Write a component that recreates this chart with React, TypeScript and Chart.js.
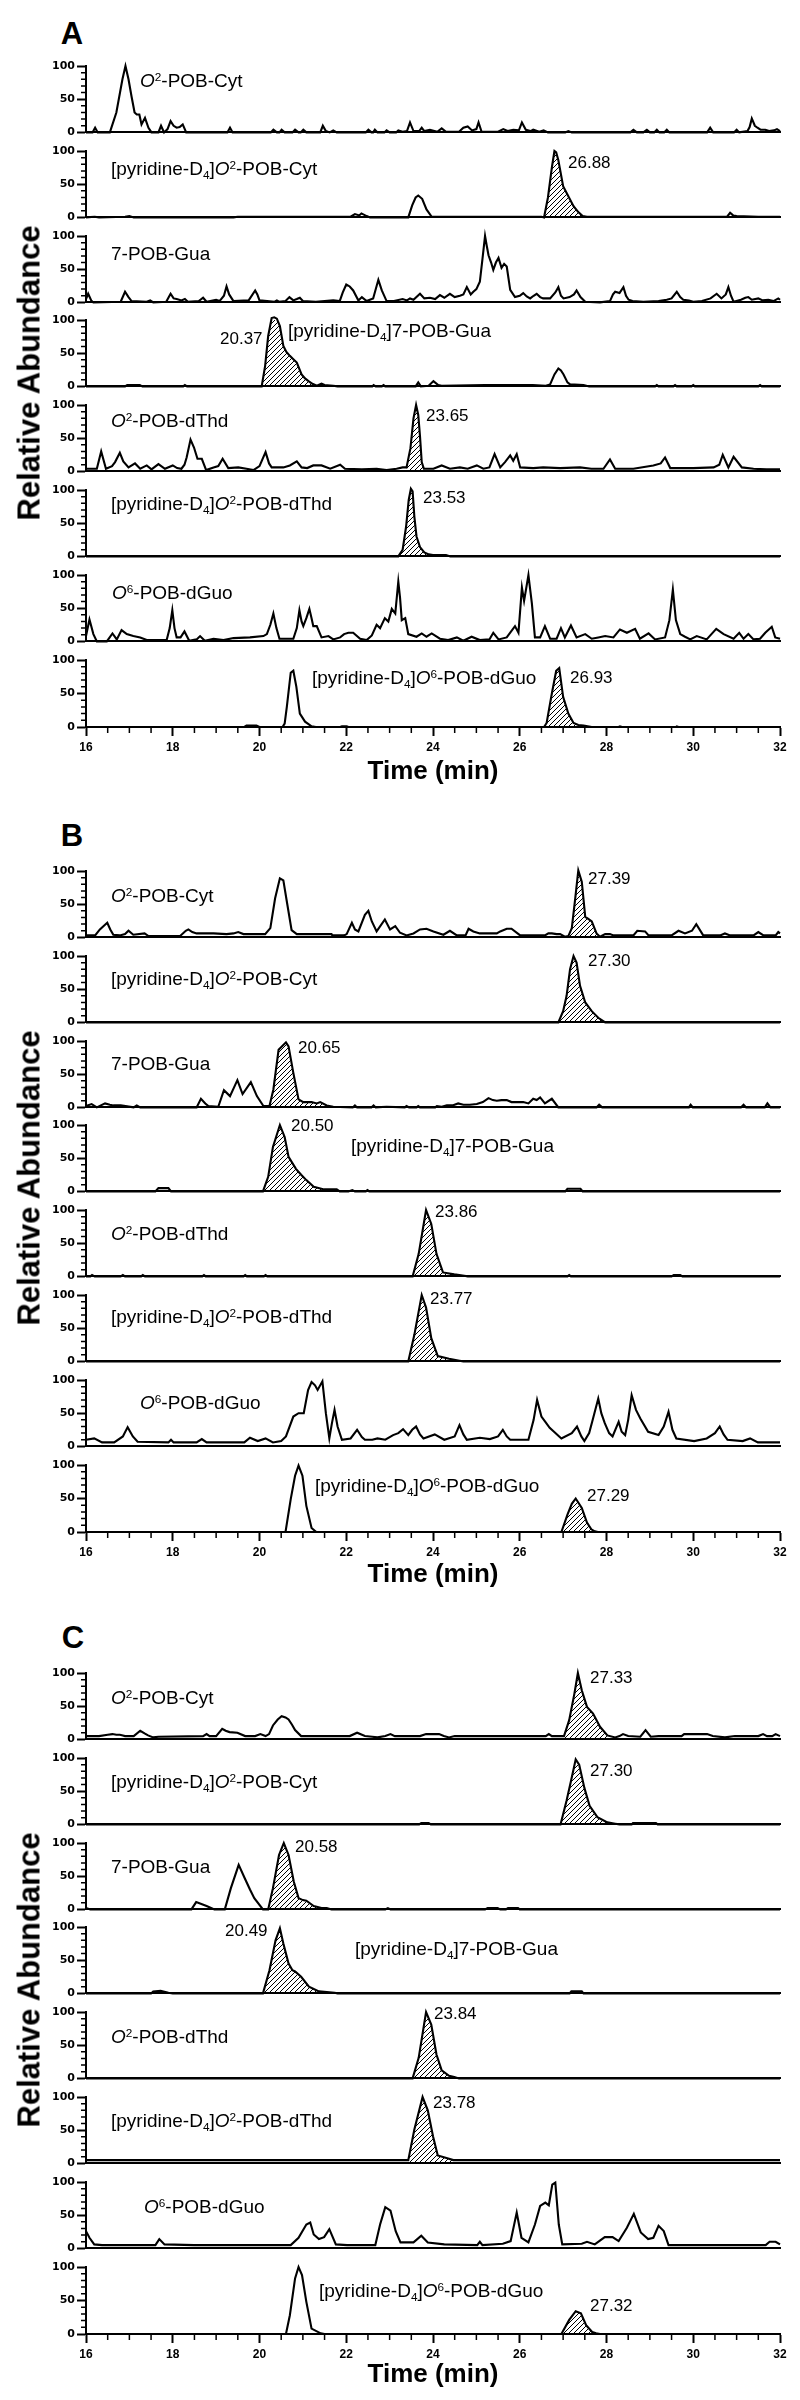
import React, { useEffect, useRef } from 'react';
import { Chart, registerables } from 'chart.js';

Chart.register(...registerables);

type P = [number, number];
type Range = [number, number] | null;

// ---------- axes ----------
const X_MIN = 16;
const X_MAX = 32;
const X_MAJOR = 2;
const X_MINOR = 0.5;
const Y_MAX = 100;
const Y_MAJOR = 50;
const Y_MINOR = 10;

const compounds = [
  'O2-POB-Cyt',
  '[pyridine-D4]O2-POB-Cyt',
  '7-POB-Gua',
  '[pyridine-D4]7-POB-Gua',
  'O2-POB-dThd',
  '[pyridine-D4]O2-POB-dThd',
  'O6-POB-dGuo',
  '[pyridine-D4]O6-POB-dGuo',
];
const panelLetters = ['A', 'B', 'C'];

// ---------- panel A traces (time min, relative abundance %) ----------
const A1: P[] = [[16,0],[16.15,0],[16.21,7],[16.27,0],[16.55,0],[16.7,30],[16.84,80],[16.91,100],[16.98,80],[17.05,54],[17.12,30],[17.17,27],[17.23,27],[17.28,12],[17.36,22],[17.44,7],[17.51,0],[17.67,0],[17.73,10],[17.8,0],[17.88,5],[17.95,17],[18.02,10],[18.09,7],[18.16,8],[18.23,12],[18.31,0],[19.26,0],[19.32,7],[19.38,0],[20.26,0],[20.32,4],[20.4,0],[20.46,0],[20.51,4],[20.58,0],[20.76,0],[20.82,4],[20.9,0],[20.95,0],[21.01,4],[21.08,0],[21.4,0],[21.46,10],[21.53,2],[21.62,0],[21.7,3],[21.78,0],[22.45,0],[22.51,4],[22.58,0],[22.62,0],[22.66,4],[22.72,0],[22.88,0],[22.93,3],[23.0,0],[23.15,0],[23.2,3],[23.3,1],[23.4,2],[23.47,15],[23.55,2],[23.68,2],[23.74,7],[23.8,2],[23.93,4],[24.1,1],[24.2,6],[24.3,1],[24.6,1],[24.7,7],[24.8,9],[24.9,3],[25.0,5],[25.05,15],[25.12,1],[25.5,1],[25.62,5],[25.72,2],[25.85,4],[25.98,3],[26.05,15],[26.14,4],[26.25,2],[26.31,4],[26.45,1],[26.55,3],[26.65,0],[27.05,0],[27.12,2],[27.2,0],[28.55,0],[28.62,4],[28.7,0],[28.85,0],[28.93,4],[29.0,0],[29.1,0],[29.16,4],[29.22,0],[29.33,0],[29.39,4],[29.45,0],[30.32,0],[30.39,7],[30.46,0],[30.94,0],[31.0,4],[31.06,0],[31.25,2],[31.3,8],[31.35,21],[31.42,10],[31.48,7],[31.55,4],[31.66,4],[31.75,2],[31.86,3],[31.93,5],[32,2]];
const A2: P[] = [[16,0],[16.2,1],[16.3,0],[16.9,1],[17.0,2],[17.1,0],[19.4,0],[19.5,1],[20.4,1],[21.0,1],[22.1,1],[22.2,5],[22.3,3],[22.35,6],[22.47,2],[22.55,0],[23.43,0],[23.52,18],[23.6,30],[23.66,33],[23.75,28],[23.85,12],[23.97,1],[24.1,1],[24.5,1],[25.0,1],[25.5,1],[26.0,1],[26.5,1],[26.56,0],[26.65,30],[26.74,75],[26.8,100],[26.84,98],[26.89,86],[27.0,47],[27.12,32],[27.24,17],[27.35,8],[27.45,2],[27.55,1],[28.0,1],[28.6,1],[29.0,1],[29.5,1],[30.0,1],[30.5,1],[30.78,1],[30.85,7],[30.92,3],[31.0,2],[31.5,1],[32,1]];
const A3: P[] = [[16,5],[16.05,13],[16.12,3],[16.17,0],[16.8,1],[16.9,16],[16.98,8],[17.05,2],[17.4,1],[17.48,3],[17.55,0],[17.85,1],[17.95,13],[18.02,6],[18.09,5],[18.2,3],[18.28,5],[18.35,1],[18.6,2],[18.7,7],[18.78,1],[19.0,4],[19.08,2],[19.18,10],[19.24,24],[19.3,12],[19.4,2],[19.75,3],[19.9,18],[19.95,12],[20.0,3],[20.35,1],[20.4,3],[20.45,1],[20.6,2],[20.69,8],[20.78,3],[20.86,5],[20.93,7],[21.0,2],[21.3,1],[21.7,3],[21.85,2],[21.92,15],[22.0,27],[22.08,24],[22.16,18],[22.28,3],[22.36,8],[22.47,2],[22.62,6],[22.74,34],[22.82,18],[22.93,2],[23.1,2],[23.3,5],[23.4,3],[23.47,6],[23.55,4],[23.7,13],[23.8,6],[23.93,7],[24.05,5],[24.16,11],[24.26,7],[24.39,13],[24.5,8],[24.62,10],[24.7,12],[24.78,23],[24.87,12],[24.93,16],[25.0,20],[25.08,31],[25.14,65],[25.2,100],[25.24,85],[25.28,71],[25.34,60],[25.39,49],[25.45,60],[25.51,67],[25.58,52],[25.64,58],[25.7,54],[25.78,19],[25.89,8],[26.0,10],[26.08,14],[26.16,9],[26.24,6],[26.32,10],[26.39,13],[26.47,8],[26.54,6],[26.7,6],[26.82,15],[26.89,23],[26.95,10],[27.01,6],[27.15,8],[27.25,12],[27.31,18],[27.4,8],[27.51,1],[27.85,0],[28.08,2],[28.15,12],[28.2,16],[28.3,14],[28.39,23],[28.45,10],[28.51,4],[28.6,2],[28.85,1],[29.2,2],[29.39,4],[29.5,6],[29.62,16],[29.7,8],[29.77,4],[29.9,3],[30.0,1],[30.2,2],[30.4,6],[30.54,13],[30.65,6],[30.75,12],[30.81,23],[30.87,10],[30.93,1],[31.1,4],[31.2,7],[31.27,8],[31.35,4],[31.5,6],[31.6,3],[31.73,4],[31.85,2],[31.96,6],[32,4]];
const A4: P[] = [[16,0],[16.9,0],[16.95,2],[17.24,2],[17.3,0],[18.24,0],[18.28,2],[18.33,0],[20.05,0],[20.13,31],[20.2,76],[20.28,103],[20.34,104],[20.4,102],[20.47,91],[20.55,61],[20.62,52],[20.7,46],[20.78,41],[20.86,36],[20.97,18],[21.05,12],[21.13,8],[21.22,4],[21.32,1],[21.43,4],[21.5,2],[21.7,1],[21.8,0],[22.6,0],[22.63,2],[22.68,0],[22.82,0],[22.86,2],[22.9,0],[23.6,0],[23.66,6],[23.72,0],[23.9,1],[24.01,8],[24.12,2],[24.2,1],[25.2,2],[25.4,2],[25.8,2],[26.3,2],[26.6,1],[26.7,3],[26.8,18],[26.89,27],[26.95,24],[27.01,18],[27.1,6],[27.16,3],[27.47,2],[27.6,0],[29.12,0],[29.16,2],[29.2,0],[29.54,0],[29.58,2],[29.62,0],[29.96,0],[30.0,2],[30.04,0],[31.5,0],[31.54,2],[31.58,0],[32,0]];
const A5: P[] = [[16,4],[16.25,4],[16.35,30],[16.46,4],[16.6,8],[16.67,14],[16.78,28],[16.86,15],[16.98,6],[17.13,12],[17.25,4],[17.4,9],[17.51,3],[17.67,11],[17.82,4],[18.0,9],[18.1,5],[18.2,4],[18.27,10],[18.32,21],[18.41,48],[18.49,36],[18.57,19],[18.67,19],[18.77,2],[18.94,6],[19.05,8],[19.15,19],[19.28,5],[19.51,6],[19.7,4],[19.86,2],[20.0,8],[20.14,29],[20.22,12],[20.28,6],[20.55,6],[20.7,9],[20.86,15],[20.97,6],[21.1,5],[21.24,9],[21.43,9],[21.63,4],[21.86,10],[21.97,4],[22.36,3],[22.7,4],[22.93,2],[23.16,4],[23.3,6],[23.39,6],[23.48,35],[23.55,80],[23.61,100],[23.66,85],[23.7,53],[23.74,14],[23.79,4],[24.01,4],[24.2,9],[24.39,4],[24.62,6],[24.8,4],[25.01,9],[25.16,4],[25.3,6],[25.42,26],[25.55,6],[25.66,14],[25.78,24],[25.85,16],[25.93,26],[26.01,6],[26.31,5],[26.54,6],[26.93,5],[27.39,6],[27.65,4],[27.93,4],[28.08,18],[28.2,4],[28.62,4],[29.08,9],[29.25,12],[29.35,21],[29.47,5],[30.0,5],[30.47,6],[30.6,10],[30.68,25],[30.81,6],[30.93,22],[31.12,6],[31.39,4],[31.69,3],[31.96,3],[32,3]];
const A6: P[] = [[16,0],[18.0,0],[20.0,0],[23.2,0],[23.3,10],[23.38,45],[23.44,85],[23.49,102],[23.53,98],[23.57,60],[23.62,30],[23.7,14],[23.8,6],[23.9,3],[24.0,2],[24.3,2],[24.4,0],[32,0]];
const A7: P[] = [[16,8],[16.08,33],[16.17,11],[16.25,0],[16.48,0],[16.61,12],[16.71,3],[16.82,17],[16.94,11],[17.09,8],[17.25,6],[17.4,2],[17.86,2],[17.93,20],[17.99,47],[18.04,20],[18.09,6],[18.18,6],[18.27,15],[18.38,1],[18.55,3],[18.63,8],[18.74,1],[18.94,4],[19.17,2],[19.4,5],[19.78,6],[20.09,8],[20.17,11],[20.25,25],[20.32,42],[20.39,20],[20.46,4],[20.78,4],[20.86,20],[20.92,47],[20.97,30],[21.01,23],[21.08,35],[21.15,49],[21.2,35],[21.24,23],[21.32,23],[21.43,6],[21.59,8],[21.7,3],[21.86,6],[21.95,11],[22.05,13],[22.16,13],[22.32,4],[22.47,2],[22.59,9],[22.7,25],[22.78,20],[22.89,35],[22.97,30],[23.05,49],[23.13,42],[23.2,90],[23.24,66],[23.28,32],[23.36,35],[23.43,11],[23.62,7],[23.74,12],[23.85,7],[23.97,12],[24.16,4],[24.35,2],[24.55,6],[24.7,1],[24.89,7],[25.08,2],[25.3,3],[25.39,13],[25.51,3],[25.7,6],[25.89,23],[25.97,13],[26.05,81],[26.1,61],[26.2,100],[26.28,57],[26.35,6],[26.47,6],[26.58,23],[26.7,4],[26.85,4],[26.95,20],[27.04,6],[27.18,24],[27.31,6],[27.51,11],[27.66,4],[27.81,6],[27.97,8],[28.16,6],[28.31,18],[28.47,13],[28.66,19],[28.77,4],[28.97,12],[29.12,3],[29.35,6],[29.45,32],[29.53,78],[29.6,32],[29.7,11],[29.81,7],[29.93,3],[30.08,8],[30.31,3],[30.53,19],[30.7,11],[30.93,4],[31.06,13],[31.16,4],[31.27,11],[31.39,3],[31.54,4],[31.66,13],[31.81,22],[31.89,6],[32,4]];
const A8: P[] = [[16,0],[19.65,0],[19.7,2],[19.93,2],[20.0,0],[20.53,0],[20.58,5],[20.63,30],[20.72,81],[20.78,84],[20.85,60],[20.93,20],[21.05,8],[21.2,1],[21.3,0],[21.86,0],[21.9,1],[22.01,1],[22.05,0],[26.56,0],[26.62,6],[26.74,50],[26.84,84],[26.91,88],[27.0,45],[27.12,20],[27.24,6],[27.35,3],[27.47,2],[27.66,0],[28.28,0],[28.31,1],[28.36,0],[29.6,0],[29.62,1],[29.66,0],[32,0]];

// ---------- panel B traces ----------
const B1: P[] = [[16,3],[16.21,3],[16.32,12],[16.42,18],[16.49,22],[16.56,12],[16.63,4],[16.78,3],[16.9,5],[16.98,10],[17.09,4],[17.35,6],[17.44,2],[18.17,2],[18.3,10],[18.36,12],[18.45,8],[18.55,6],[18.94,6],[19.24,5],[19.4,6],[19.51,8],[19.63,5],[20.13,5],[20.25,14],[20.36,59],[20.47,89],[20.55,86],[20.63,54],[20.74,11],[20.86,5],[21.66,5],[21.68,3],[21.95,3],[22.01,5],[22.13,22],[22.2,12],[22.28,9],[22.43,34],[22.51,40],[22.59,24],[22.7,9],[22.89,27],[23.01,12],[23.13,17],[23.24,7],[23.39,3],[23.55,6],[23.7,12],[23.85,13],[24.01,9],[24.24,4],[24.39,10],[24.55,3],[24.75,3],[24.82,13],[24.93,9],[25.08,6],[25.47,6],[25.55,9],[25.7,13],[25.81,13],[26.01,3],[26.58,3],[26.66,6],[26.74,6],[26.85,5],[26.93,5],[27.04,1],[27.12,2],[27.2,14],[27.28,59],[27.35,101],[27.43,84],[27.51,31],[27.58,28],[27.66,24],[27.77,6],[27.85,1],[27.97,5],[28.08,5],[28.16,3],[28.62,3],[28.71,10],[28.89,9],[28.97,3],[29.5,3],[29.66,10],[29.81,6],[29.97,10],[30.07,20],[30.23,3],[30.62,3],[30.73,6],[30.85,3],[31.39,3],[31.5,8],[31.62,3],[31.9,3],[31.96,8],[32,6]];
const B2: P[] = [[16,0],[26.89,0],[27.0,17],[27.08,40],[27.16,80],[27.24,100],[27.31,90],[27.39,55],[27.51,30],[27.66,17],[27.81,7],[27.97,0],[32,0]];
const B3: P[] = [[16,2],[16.13,5],[16.25,0],[16.44,6],[16.55,4],[16.63,3],[16.8,3],[17.1,0],[17.17,3],[17.25,0],[18.55,0],[18.65,13],[18.75,6],[18.82,2],[19.05,1],[19.18,26],[19.32,17],[19.49,41],[19.61,20],[19.8,38],[19.94,17],[20.09,2],[20.23,2],[20.32,27],[20.44,87],[20.61,98],[20.67,92],[20.78,52],[20.9,12],[21.01,8],[21.2,8],[21.32,6],[21.4,8],[21.55,3],[21.7,1],[22.15,0],[22.2,3],[22.25,0],[22.58,0],[22.63,3],[22.68,0],[22.93,1],[23.35,0],[23.39,2],[23.45,0],[23.62,0],[23.66,2],[23.7,0],[24.05,0],[24.09,2],[24.2,1],[24.32,3],[24.45,3],[24.58,6],[24.7,4],[24.85,4],[25.01,5],[25.15,8],[25.28,14],[25.38,11],[25.47,10],[25.58,11],[25.7,11],[25.81,8],[26.08,8],[26.2,6],[26.31,13],[26.39,11],[26.47,15],[26.58,6],[26.74,13],[26.89,0],[27.77,0],[27.83,4],[27.9,0],[29.9,0],[29.94,4],[29.99,0],[31.1,0],[31.16,4],[31.22,0],[31.65,0],[31.71,6],[31.78,0],[32,0]];
const B4: P[] = [[16,0],[17.6,0],[17.67,5],[17.9,5],[17.96,0],[20.08,0],[20.2,22],[20.31,67],[20.47,100],[20.58,82],[20.67,52],[20.84,34],[20.96,25],[21.08,17],[21.25,7],[21.49,3],[21.78,3],[21.85,0],[22.05,0],[22.14,2],[22.2,0],[22.45,0],[22.49,2],[22.53,0],[27.05,0],[27.1,4],[27.4,4],[27.45,0],[32,0]];
const B5: P[] = [[16,0],[16.1,0],[16.14,2],[16.2,0],[16.8,0],[16.85,2],[16.9,0],[17.27,0],[17.31,2],[17.36,0],[18.68,0],[18.72,2],[18.76,0],[19.63,0],[19.67,2],[19.71,0],[20.1,0],[20.14,2],[20.18,0],[23.53,0],[23.67,34],[23.84,100],[23.96,79],[24.08,34],[24.23,6],[24.49,3],[24.72,1],[24.8,0],[27.1,0],[27.14,2],[27.18,0],[29.5,0],[29.55,2],[29.7,2],[29.75,0],[32,0]];
const B6: P[] = [[16,0],[23.43,0],[23.57,40],[23.74,100],[23.84,81],[23.96,35],[24.11,8],[24.37,4],[24.61,1],[24.7,0],[32,0]];
const B7: P[] = [[16,10],[16.19,12],[16.37,6],[16.65,6],[16.85,15],[16.96,29],[17.08,15],[17.19,7],[17.9,6],[17.96,10],[18.02,6],[18.55,6],[18.67,11],[18.78,6],[19.65,6],[19.78,13],[19.96,8],[20.14,12],[20.31,6],[20.5,8],[20.61,15],[20.78,45],[20.9,50],[21.02,50],[21.12,85],[21.2,97],[21.28,92],[21.34,85],[21.45,98],[21.53,50],[21.61,12],[21.67,35],[21.73,55],[21.8,30],[21.9,10],[22.1,12],[22.25,25],[22.36,14],[22.43,10],[22.6,10],[22.72,12],[22.9,10],[23.08,17],[23.2,20],[23.31,26],[23.43,17],[23.52,25],[23.61,30],[23.7,18],[23.78,12],[24.04,18],[24.26,10],[24.5,15],[24.61,32],[24.7,18],[24.78,10],[25.08,13],[25.31,11],[25.5,15],[25.61,25],[25.7,15],[25.78,10],[26.2,10],[26.32,40],[26.4,70],[26.5,45],[26.59,37],[26.69,28],[26.79,22],[26.96,12],[27.2,20],[27.32,30],[27.42,15],[27.49,8],[27.6,20],[27.67,37],[27.81,72],[27.88,50],[27.96,35],[28.06,20],[28.14,15],[28.28,37],[28.35,22],[28.43,17],[28.5,40],[28.58,77],[28.68,55],[28.78,42],[28.96,22],[29.2,17],[29.32,30],[29.43,52],[29.52,25],[29.61,12],[30.02,8],[30.31,12],[30.5,20],[30.61,30],[30.7,18],[30.79,10],[31.14,8],[31.31,12],[31.49,6],[32,6]];
const B8: P[] = [[16,0],[20.6,0],[20.72,49],[20.82,84],[20.9,99],[20.99,84],[21.08,39],[21.2,6],[21.31,0],[26.96,0],[27.1,26],[27.2,42],[27.29,50],[27.43,36],[27.55,14],[27.65,4],[27.73,1],[27.8,0],[32,0]];

// ---------- panel C traces ----------
const C1: P[] = [[16,5],[16.3,5],[16.5,7],[16.61,8],[16.7,7],[16.78,7],[16.85,6],[16.9,5],[17.1,5],[17.25,13],[17.35,9],[17.43,6],[17.55,3],[17.67,4],[18.7,5],[18.78,8],[18.85,5],[19.0,5],[19.14,16],[19.22,13],[19.31,11],[19.49,10],[19.67,5],[19.9,5],[20.02,8],[20.14,5],[20.22,8],[20.31,21],[20.42,30],[20.51,35],[20.6,33],[20.67,30],[20.75,22],[20.82,14],[20.96,5],[22.08,5],[22.25,10],[22.43,5],[22.6,4],[22.72,3],[22.9,5],[23.02,8],[23.12,5],[23.7,5],[23.84,8],[24.14,8],[24.25,5],[24.37,3],[24.5,5],[25.79,5],[26.6,5],[26.67,8],[26.74,5],[27.02,5],[27.14,29],[27.26,69],[27.34,100],[27.43,74],[27.55,49],[27.69,39],[27.85,19],[28.02,6],[28.2,3],[28.3,5],[28.38,8],[28.5,5],[28.78,4],[28.9,14],[29.02,4],[29.2,5],[29.73,5],[29.79,8],[30.32,8],[30.45,5],[30.73,3],[30.96,5],[31.5,5],[31.61,8],[31.7,5],[31.82,5],[31.9,8],[32,5]];
const C2: P[] = [[16,0],[23.68,0],[23.73,2],[23.9,2],[23.95,0],[26.94,0],[27.08,36],[27.18,65],[27.29,98],[27.37,90],[27.49,55],[27.61,28],[27.79,11],[28.02,3],[28.2,1],[28.3,0],[28.58,0],[28.61,2],[29.14,2],[29.18,0],[32,0]];
const C3: P[] = [[16,2],[16.1,0],[18.43,0],[18.54,11],[18.66,8],[18.78,5],[18.96,0],[19.2,0],[19.34,32],[19.52,67],[19.66,47],[19.78,30],[19.88,17],[20.08,0],[20.2,0],[20.31,32],[20.45,82],[20.56,100],[20.67,82],[20.79,42],[20.9,17],[21.0,14],[21.08,13],[21.25,5],[21.43,2],[21.55,2],[21.66,0],[22.9,0],[22.96,2],[23.02,0],[25.2,0],[25.26,2],[25.49,2],[25.55,0],[25.68,0],[25.73,2],[25.96,2],[26.0,0],[32,0]];
const C4: P[] = [[16,0],[17.5,0],[17.55,3],[17.72,4],[17.9,1],[18.0,0],[20.08,0],[20.23,35],[20.37,80],[20.47,98],[20.55,75],[20.67,45],[20.76,35],[20.82,33],[20.96,25],[21.14,10],[21.37,3],[21.73,1],[21.8,0],[27.15,0],[27.19,3],[27.43,3],[27.47,0],[32,0]];
const C5: P[] = [[16,0],[23.53,0],[23.67,31],[23.84,100],[23.96,81],[24.08,36],[24.2,12],[24.37,4],[24.49,2],[24.6,0],[32,0]];
const C6: P[] = [[16,5],[23.43,5],[23.57,51],[23.76,100],[23.88,80],[24.0,41],[24.11,12],[24.31,8],[24.47,5],[32,5]];
const C7: P[] = [[16,26],[16.08,16],[16.19,6],[16.37,5],[17.6,5],[17.69,14],[17.81,6],[18.49,5],[19.78,5],[20.72,5],[20.9,16],[21.08,36],[21.17,39],[21.25,21],[21.37,14],[21.49,17],[21.61,29],[21.76,6],[22.02,5],[22.67,5],[22.78,36],[22.9,62],[23.02,57],[23.14,26],[23.25,9],[23.55,9],[23.73,19],[23.88,9],[24.26,6],[25.02,5],[25.08,10],[25.14,5],[25.61,7],[25.79,11],[25.93,54],[26.04,16],[26.2,9],[26.35,36],[26.47,64],[26.59,69],[26.67,65],[26.75,96],[26.82,99],[26.9,36],[26.98,6],[27.43,7],[27.55,10],[27.73,6],[27.96,17],[28.14,17],[28.28,11],[28.47,31],[28.63,52],[28.79,24],[28.96,14],[29.08,16],[29.2,34],[29.32,26],[29.43,5],[31.67,5],[31.76,10],[31.9,10],[32,6]];
const C8: P[] = [[16,0],[20.61,0],[20.7,28],[20.82,83],[20.9,100],[20.98,88],[21.08,48],[21.2,8],[21.41,1],[21.5,0],[26.96,0],[27.14,21],[27.29,34],[27.41,31],[27.53,13],[27.67,3],[27.76,1],[27.85,0],[32,0]];

// ---------- hatched (integrated) peak ranges ----------
const A_hatch: Range[] = [null, [26.56, 27.5], null, [20.05, 21.32], [23.39, 23.79], [23.2, 24.4], null, [26.56, 27.66]];
const B_hatch: Range[] = [[27.04, 27.85], [26.89, 27.97], [20.23, 21.6], [20.08, 21.5], [23.53, 24.72], [23.43, 24.61], null, [26.96, 27.8]];
const C_hatch: Range[] = [[27.02, 28.1], [26.94, 28.25], [20.2, 21.66], [20.08, 21.75], [23.53, 24.55], [23.43, 24.47], null, [26.96, 27.8]];

// ---------- retention-time labels ----------
const A_rt = ['', '26.88', '', '20.37', '23.65', '23.53', '', '26.93'];
const B_rt = ['27.39', '27.30', '20.65', '20.50', '23.86', '23.77', '', '27.29'];
const C_rt = ['27.33', '27.30', '20.58', '20.49', '23.84', '23.78', '', '27.32'];

const panelTraces = [
  [A1, A2, A3, A4, A5, A6, A7, A8],
  [B1, B2, B3, B4, B5, B6, B7, B8],
  [C1, C2, C3, C4, C5, C6, C7, C8],
];
const panelHatch = [A_hatch, B_hatch, C_hatch];
const panelRt = [A_rt, B_rt, C_rt];

// ---------- layout (pixels) ----------
const W = 800;
const PLOT_L = 86;
const PLOT_R = 780;
const PLOT_H = 67;
const PAD_T = 10;
const PAD_B = 8;
const AXIS_H = 32;
const PITCH = 84.8;
const PANEL_TOP = [66, 871, 1673];
const LETTER_POS = [[72, 33], [72, 835], [73, 1637]];
const YTITLE_POS = [[29, 373], [29, 1178], [29, 1980]];
const XTITLE_POS = [[433, 770], [433, 1573], [433, 2373]];
const LABEL_POS = [
  [[140, 80], [111, 168], [111, 253], [288, 330], [111, 420], [111, 503], [112, 592], [312, 677]],
  [[111, 895], [111, 978], [111, 1063], [351, 1145], [111, 1233], [111, 1316], [140, 1402], [315, 1485]],
  [[111, 1697], [111, 1781], [111, 1866], [355, 1948], [111, 2036], [111, 2120], [144, 2206], [319, 2290]],
];
const RT_POS = [
  [null, [568, 162], null, [220, 338], [426, 415], [423, 497], null, [570, 677]],
  [[588, 878], [588, 960], [298, 1047], [291, 1125], [435, 1211], [430, 1298], null, [587, 1495]],
  [[590, 1677], [590, 1770], [295, 1846], [225, 1930], [434, 2013], [433, 2102], null, [590, 2305]],
];

const SANS = '"Liberation Sans", Arial, Helvetica, sans-serif';

function makeHatch(ctx: CanvasRenderingContext2D) {
  const s = 5;
  const c = document.createElement('canvas');
  c.width = s;
  c.height = s;
  const g = c.getContext('2d')!;
  g.strokeStyle = '#000';
  g.lineWidth = 1;
  g.beginPath();
  g.moveTo(0, s); g.lineTo(s, 0);
  g.moveTo(-1, 1); g.lineTo(1, -1);
  g.moveTo(s - 1, s + 1); g.lineTo(s + 1, s - 1);
  g.stroke();
  return ctx.createPattern(c, 'repeat')!;
}

const minorTicks = {
  id: 'minorTicks',
  afterDraw(chart: any, _args: any, opts: any) {
    const { ctx } = chart;
    const x = chart.scales.x;
    const y = chart.scales.y;
    ctx.save();
    ctx.strokeStyle = '#000';
    ctx.lineWidth = 1.5;
    ctx.beginPath();
    for (let v = Y_MINOR; v < Y_MAX; v += Y_MINOR) {
      if (v % Y_MAJOR === 0) continue;
      const py = y.getPixelForValue(v);
      ctx.moveTo(x.left - 5, py);
      ctx.lineTo(x.left, py);
    }
    if (opts && opts.bottom) {
      for (let t = X_MIN + X_MINOR; t < X_MAX; t += X_MINOR) {
        const r = t / X_MAJOR;
        if (Math.abs(r - Math.round(r)) < 1e-6) continue;
        const px = x.getPixelForValue(t);
        ctx.moveTo(px, y.bottom);
        ctx.lineTo(px, y.bottom + 6);
      }
    }
    ctx.stroke();
    ctx.restore();
  },
};

function RowChart({ top, data, hatch, bottom }: { top: number; data: P[]; hatch: Range; bottom: boolean }) {
  const ref = useRef<HTMLCanvasElement>(null);
  const height = bottom ? PAD_T + PLOT_H + 2 + AXIS_H : PAD_T + PLOT_H + PAD_B;
  useEffect(() => {
    const canvas = ref.current!;
    const ctx = canvas.getContext('2d')!;
    const pts = data.map(([x, y]) => ({ x, y }));
    const datasets: any[] = [
      {
        data: pts,
        borderColor: '#000',
        borderWidth: 2.1,
        pointRadius: 0,
        fill: false,
        tension: 0,
        clip: false,
        order: 0,
      },
    ];
    if (hatch) {
      datasets.push({
        data: pts.filter((p) => p.x >= hatch[0] && p.x <= hatch[1]),
        borderWidth: 0,
        borderColor: 'rgba(0,0,0,0)',
        backgroundColor: makeHatch(ctx),
        fill: 'origin',
        pointRadius: 0,
        tension: 0,
        clip: false,
        order: 1,
      });
    }
    const chart = new Chart(canvas, {
      type: 'line',
      data: { datasets },
      plugins: [minorTicks],
      options: {
        animation: false,
        responsive: false,
        devicePixelRatio: 1,
        events: [],
        layout: { padding: { top: PAD_T, bottom: bottom ? 2 : PAD_B, left: 0, right: W - PLOT_R } },
        plugins: {
          legend: { display: false },
          tooltip: { enabled: false },
          minorTicks: { bottom },
        } as any,
        scales: {
          x: {
            type: 'linear',
            min: X_MIN,
            max: X_MAX,
            display: true,
            ticks: bottom
              ? {
                  display: true,
                  stepSize: X_MAJOR,
                  autoSkip: false,
                  maxRotation: 0,
                  padding: 4,
                  color: '#000',
                  font: { family: SANS, weight: 'bold', size: 12 },
                }
              : { display: false },
            grid: bottom
              ? { display: true, drawOnChartArea: false, drawTicks: true, tickLength: 9, tickWidth: 2, tickColor: '#000' }
              : { display: false, drawTicks: false },
            border: { display: true, color: '#000', width: 2 },
            afterFit: (s: any) => {
              s.height = bottom ? AXIS_H : 0;
            },
          } as any,
          y: {
            type: 'linear',
            min: 0,
            max: Y_MAX,
            ticks: {
              stepSize: Y_MAJOR,
              padding: 2,
              color: '#000',
              font: { family: '"DejaVu Sans", sans-serif', weight: 'bold', size: 11 },
            },
            grid: { display: true, drawOnChartArea: false, drawTicks: true, tickLength: 9, tickWidth: 2, tickColor: '#000' },
            border: { display: true, color: '#000', width: 2 },
            afterFit: (s: any) => {
              s.width = PLOT_L;
            },
          } as any,
        },
      },
    });
    return () => chart.destroy();
  }, [data, hatch, bottom]);
  return (
    <canvas
      ref={ref}
      width={W}
      height={height}
      style={{ position: 'absolute', left: 0, top: top - PAD_T, width: W, height }}
    />
  );
}

function Chem({ name }: { name: string }) {
  const parts = name.split(/(D4|O2|O6)/).filter((s) => s.length);
  return (
    <>
      {parts.map((p, i) => {
        if (p === 'D4')
          return (
            <span key={i}>
              D<span style={{ fontSize: '0.62em', position: 'relative', top: '0.35em' }}>4</span>
            </span>
          );
        if (p === 'O2' || p === 'O6')
          return (
            <span key={i}>
              <i>O</i>
              <span style={{ fontSize: '0.62em', position: 'relative', top: '-0.55em' }}>{p[1]}</span>
            </span>
          );
        return <span key={i}>{p}</span>;
      })}
    </>
  );
}

const abs = (x: number, y: number): React.CSSProperties => ({
  position: 'absolute',
  left: x,
  top: y,
  transform: 'translateY(-50%)',
  whiteSpace: 'nowrap',
  lineHeight: 1,
});

export default function App() {
  return (
    <div
      style={{
        position: 'absolute',
        left: 0,
        top: 0,
        width: W,
        height: 2400,
        background: '#fff',
        fontFamily: SANS,
        color: '#000',
      }}
    >
      {panelTraces.map((traces, p) =>
        traces.map((d, r) => (
          <RowChart
            key={`c${p}-${r}`}
            top={Math.round(PANEL_TOP[p] + r * PITCH)}
            data={d}
            hatch={panelHatch[p][r]}
            bottom={r === traces.length - 1}
          />
        ))
      )}
      {panelLetters.map((L, p) => (
        <div
          key={`L${p}`}
          style={{ ...abs(LETTER_POS[p][0], LETTER_POS[p][1]), transform: 'translate(-50%,-50%)', fontSize: 31, fontWeight: 'bold' }}
        >
          {L}
        </div>
      ))}
      {YTITLE_POS.map(([x, y], p) => (
        <div
          key={`Y${p}`}
          style={{
            position: 'absolute',
            left: x,
            top: y,
            transform: 'translate(-50%,-50%) rotate(-90deg)',
            fontSize: 31,
            fontWeight: 'bold',
            whiteSpace: 'nowrap',
            lineHeight: 1,
          }}
        >
          Relative Abundance
        </div>
      ))}
      {XTITLE_POS.map(([x, y], p) => (
        <div
          key={`X${p}`}
          style={{ ...abs(x, y), transform: 'translate(-50%,-50%)', fontSize: 26, fontWeight: 'bold' }}
        >
          Time (min)
        </div>
      ))}
      {LABEL_POS.map((rows, p) =>
        rows.map(([x, y], r) => (
          <div key={`n${p}-${r}`} style={{ ...abs(x, y), fontSize: 19 }}>
            <Chem name={compounds[r]} />
          </div>
        ))
      )}
      {RT_POS.map((rows, p) =>
        rows.map((pos, r) =>
          pos && panelRt[p][r] ? (
            <div key={`rt${p}-${r}`} style={{ ...abs(pos[0], pos[1]), fontSize: 17 }}>
              {panelRt[p][r]}
            </div>
          ) : null
        )
      )}
    </div>
  );
}
